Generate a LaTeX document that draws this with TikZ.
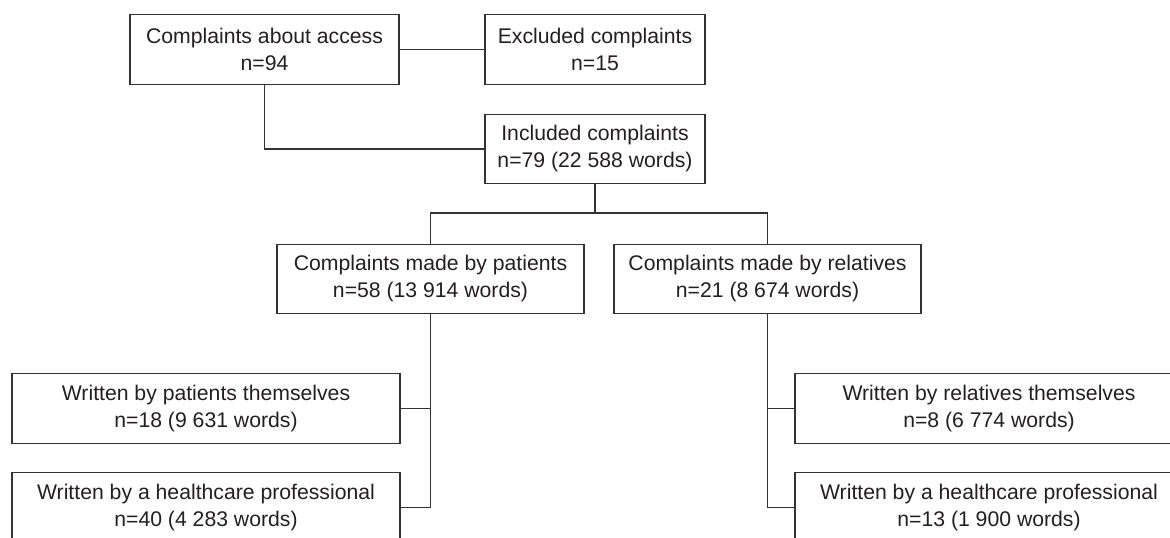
\documentclass[tikz,border=0pt]{standalone}
\usepackage{fontspec}
\setmainfont{Liberation Sans}
\definecolor{linegray}{HTML}{333333}
\definecolor{textgray}{HTML}{231F20}
\tikzset{
	box/.style={draw=linegray, line width=0.6pt, rectangle, align=center, inner sep=0pt, minimum height=34.75pt, text=textgray, font=\fontsize{10.6}{13.5}\selectfont},
	link/.style={draw=linegray, line width=0.55pt}
}
\begin{document}
\begin{tikzpicture}[x=0.5pt, y=-0.5pt]
			\useasboundingbox (0, 0) rectangle (1170, 537);
			\clip (0, 0) rectangle (1170, 537);
			\draw (264.5, 49.5) 	node[box, minimum width=134.5pt] 	(access) 	{Complaints about access\\n=94};
			\draw (595, 49.5) 	node[box, minimum width=110pt] 		(excl) 		{Excluded complaints\\n=15};
			\draw (595, 149) 	node[box, minimum width=110pt] 		(incl) 		{Included complaints\\n=79 (22 588 words)};
			\draw (430.5, 279) 	node[box, minimum width=153.5pt] 	(pat) 		{Complaints made by patients\\n=58 (13 914 words)};
			\draw (767.5, 279) 	node[box, minimum width=153.5pt] 	(rel) 		{Complaints made by relatives\\n=21 (8 674 words)};
			\draw (206, 408.5) 	node[box, minimum width=194pt] 		(pself) 	{Written by patients themselves\\n=18 (9 631 words)};
			\draw (206, 507.5) 	node[box, minimum width=194pt] 		(pprof) 	{Written by a healthcare professional\\n=40 (4 283 words)};
			\draw (989, 408.5) 	node[box, minimum width=194pt] 		(rself) 	{Written by relatives themselves\\n=8 (6 774 words)};
			\draw (989, 507.5) 	node[box, minimum width=194pt] 		(rprof) 	{Written by a healthcare professional\\n=13 (1 900 words)};
			\coordinate (split) at (595, 213);

			\draw[link] (access) -- (excl);
			\draw[link] (access.south) |- (incl.west);
			\draw[link] (incl.south) -- (split);
			\draw[link] (pat.north) |- (split) -| (rel.north);
			\draw[link] (pat.south) |- (pprof.east);
			\draw[link] (pself.east) -| (pat.south);
			\draw[link] (rel.south) |- (rprof.west);
			\draw[link] (rself.west) -| (rel.south);
		\end{tikzpicture}
\end{document}
